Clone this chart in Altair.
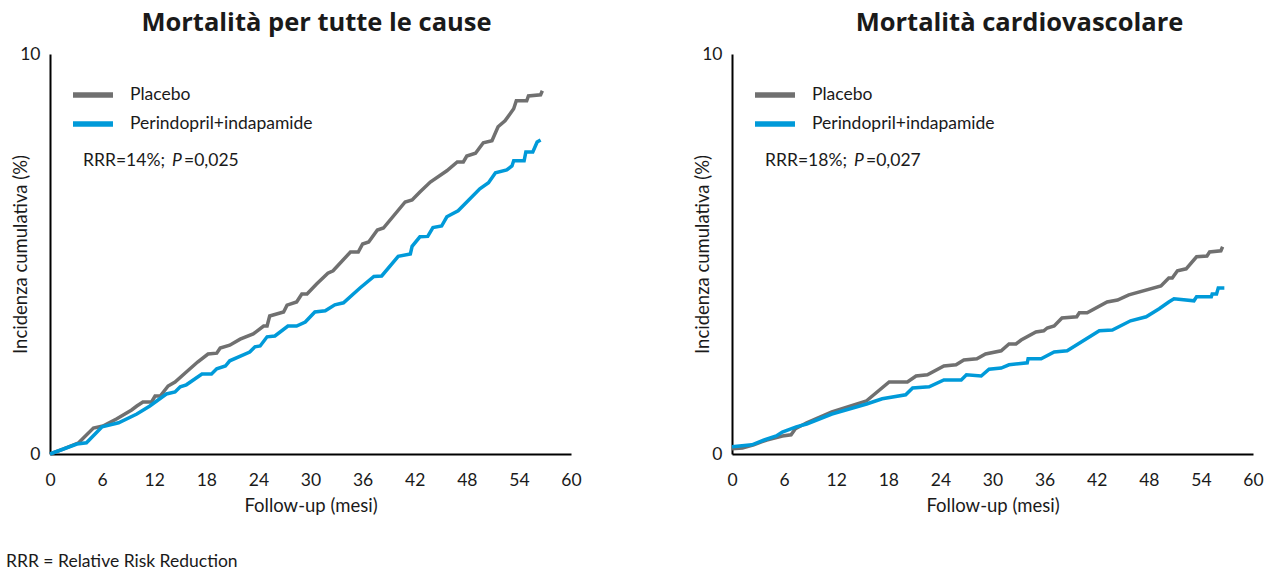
import altair as alt
import pandas as pd

FONT = "Lato"
TITLE_FONT = "Open Sans"
GRAY = "#707070"
BLUE = "#009ad9"
TXT = "#1a1a1a"
SERIES = ["Placebo", "Perindopril+indapamide"]
X_TICKS = [0, 6, 12, 18, 24, 30, 36, 42, 48, 54, 60]
Y_TICKS = [0, 10]

# ---- Mortalità per tutte le cause ----
all_placebo_m = [0, 1.5, 3.3, 5.0, 6.1, 7.7, 9.4, 10.0, 10.7, 11.7, 12.1, 12.7, 13.6, 14.4, 15.7, 17.0,
                 18.2, 19.2, 19.6, 20.7, 21.9, 23.4, 24.6, 25.0, 25.3, 26.9, 27.3, 28.4, 29.0, 29.6,
                 30.7, 32.0, 32.6, 34.6, 35.5, 36.0, 36.7, 37.7, 38.4, 40.9, 41.7, 42.6, 43.8, 45.7,
                 46.9, 47.6, 48.0, 49.0, 49.9, 50.9, 51.6, 52.4, 53.4, 53.7, 54.9, 55.1, 56.5, 56.7]
all_placebo_v = [0, 0.12, 0.28, 0.65, 0.70, 0.88, 1.10, 1.20, 1.30, 1.30, 1.45, 1.45, 1.70, 1.80, 2.05, 2.30,
                 2.50, 2.52, 2.65, 2.72, 2.87, 3.00, 3.20, 3.20, 3.45, 3.55, 3.72, 3.80, 4.00, 4.00,
                 4.25, 4.52, 4.58, 5.05, 5.05, 5.25, 5.30, 5.60, 5.65, 6.30, 6.35, 6.55, 6.80, 7.08,
                 7.30, 7.30, 7.45, 7.52, 7.78, 7.83, 8.18, 8.33, 8.63, 8.83, 8.83, 8.95, 8.98, 9.08]
all_treat_m = [0, 3.1, 4.2, 6.0, 7.9, 10.0, 11.5, 13.4, 14.4, 15.0, 15.7, 17.5, 18.6, 19.2, 20.2, 20.7,
               23.0, 23.6, 24.2, 25.0, 25.9, 27.4, 28.4, 29.4, 30.5, 31.7, 32.8, 33.8, 35.7, 37.3,
               38.2, 40.1, 41.5, 41.7, 42.6, 43.5, 44.1, 45.1, 45.7, 47.0, 49.5, 50.5, 51.3, 52.6,
               53.2, 53.4, 54.6, 54.8, 55.6, 56.1, 56.5]
all_treat_v = [0, 0.25, 0.28, 0.68, 0.78, 1.00, 1.20, 1.50, 1.55, 1.68, 1.73, 2.00, 2.00, 2.13, 2.20, 2.33,
               2.55, 2.68, 2.70, 2.93, 2.95, 3.20, 3.20, 3.30, 3.55, 3.58, 3.73, 3.78, 4.15, 4.44,
               4.45, 4.94, 5.00, 5.19, 5.43, 5.44, 5.66, 5.70, 5.93, 6.08, 6.63, 6.78, 7.03, 7.10,
               7.20, 7.33, 7.33, 7.55, 7.55, 7.80, 7.85]

# ---- Mortalità cardiovascolare ----
cv_placebo_m = [0, 1.2, 2.5, 4.0, 5.8, 6.8, 7.3, 8.6, 11.5, 15.5, 18.1, 20.2, 21.2, 22.5, 24.4, 25.8,
                26.7, 28.2, 29.2, 31.0, 31.9, 32.7, 33.3, 35.0, 35.9, 36.3, 37.1, 38.0, 39.7, 40.0,
                40.9, 43.2, 44.4, 45.7, 49.4, 50.3, 50.7, 51.3, 52.3, 53.5, 54.7, 55.0, 56.3, 56.5]
cv_placebo_v = [0.13, 0.15, 0.23, 0.35, 0.45, 0.48, 0.63, 0.78, 1.05, 1.33, 1.80, 1.80, 1.95, 1.98, 2.20, 2.23,
                2.35, 2.38, 2.50, 2.58, 2.75, 2.75, 2.85, 3.05, 3.08, 3.15, 3.20, 3.40, 3.43, 3.53,
                3.53, 3.80, 3.85, 3.98, 4.20, 4.40, 4.40, 4.58, 4.63, 4.93, 4.95, 5.05, 5.08, 5.18]
cv_treat_m = [0, 2.3, 3.7, 5.1, 5.8, 7.4, 8.6, 11.5, 15.5, 17.3, 20.0, 20.8, 22.7, 24.4, 26.4, 27.0,
              28.7, 29.6, 31.0, 31.9, 34.0, 34.1, 35.6, 37.1, 38.6, 42.3, 43.8, 45.9, 47.7, 49.2,
              50.3, 50.9, 53.2, 53.5, 55.2, 55.3, 55.8, 56.0, 56.7]
cv_treat_v = [0.18, 0.23, 0.35, 0.45, 0.55, 0.68, 0.75, 1.00, 1.25, 1.38, 1.48, 1.65, 1.68, 1.85, 1.85, 1.98,
              1.95, 2.12, 2.15, 2.23, 2.28, 2.38, 2.38, 2.55, 2.58, 3.08, 3.10, 3.33, 3.43, 3.63,
              3.80, 3.88, 3.83, 3.93, 3.93, 4.00, 4.00, 4.15, 4.15]

titles = ["Mortalità per tutte le cause", "Mortalità cardiovascolare"]
rrr_texts = ["RRR=14%;", "RRR=18%;"]
p_texts = ["=0,025", "=0,027"]
footnote = "RRR = Relative Risk Reduction"


def make_df(pm, pv, tm, tv):
    rows = []
    for i, (m, v) in enumerate(zip(pm, pv)):
        rows.append({"mese": m, "inc": v, "serie": SERIES[0], "ord": i})
    for i, (m, v) in enumerate(zip(tm, tv)):
        rows.append({"mese": m, "inc": v, "serie": SERIES[1], "ord": i})
    return pd.DataFrame(rows)


def text_layer(txt, x, y, align="left", style="normal", size=17.5):
    return alt.Chart(pd.DataFrame({"t": [txt]})).mark_text(
        align=align, baseline="middle", font=FONT, fontSize=size, fontStyle=style, color=TXT
    ).encode(text="t:N", x=alt.value(x), y=alt.value(y))


def panel(df, title, rrr, ptxt, title_dx, with_footnote=False):
    lines = alt.Chart(df).mark_line(strokeWidth=3.5, strokeJoin="miter").encode(
        x=alt.X("mese:Q", scale=alt.Scale(domain=[0, 60], nice=False),
                axis=alt.Axis(values=X_TICKS, title="Follow-up (mesi)", labelFlush=False,
                              labelPadding=17, titlePadding=8)),
        y=alt.Y("inc:Q", scale=alt.Scale(domain=[0, 10], nice=False),
                axis=alt.Axis(values=Y_TICKS, title="Incidenza cumulativa (%)", labelPadding=10,
                              titleX=-24, titleY=200, titleAngle=-90, titleAlign="center",
                              titleBaseline="alphabetic")),
        color=alt.Color("serie:N", scale=alt.Scale(domain=SERIES, range=[GRAY, BLUE]),
                        legend=alt.Legend(orient="none", legendX=30, legendY=28, title=None,
                                          symbolType="M-2,0L2,0", symbolStrokeWidth=5.5,
                                          symbolSize=400, labelFontSize=17.5, labelFont=FONT,
                                          labelColor=TXT, labelOffset=24, rowPadding=5,
                                          labelLimit=400, padding=0)),
        order="ord:Q",
    )
    layers = [lines,
              text_layer(rrr, 115, 107, align="right"),
              text_layer("P", 122, 107, style="italic"),
              text_layer(ptxt, 134, 107)]
    if with_footnote:
        layers.append(text_layer(footnote, -44, 508, size=17.5))
    return alt.layer(*layers).properties(
        width=521, height=400,
        title=alt.TitleParams(title, fontSize=25.5, fontWeight="bold", font=TITLE_FONT, color=TXT,
                              dx=title_dx, offset=-11, baseline="alphabetic"),
    )


left = panel(make_df(all_placebo_m, all_placebo_v, all_treat_m, all_treat_v),
             titles[0], rrr_texts[0], p_texts[0], 6, with_footnote=True)
right = panel(make_df(cv_placebo_m, cv_placebo_v, cv_treat_m, cv_treat_v),
              titles[1], rrr_texts[1], p_texts[1], 27)

chart = alt.hconcat(left, right, spacing=111).resolve_scale(color="independent").resolve_legend(
    color="independent"
).properties(
    padding={"left": 6, "top": 10, "right": 5, "bottom": 5},
    background="white",
).configure_view(stroke=None).configure_axis(
    grid=False, ticks=False, domainColor="#000000", domainWidth=2,
    labelFont=FONT, labelFontSize=17.5, labelColor=TXT,
    titleFont=FONT, titleFontSize=18.5, titleFontWeight="normal", titleColor=TXT,
)

chart.save("out.html", embed_options={"renderer": "svg", "actions": False})
